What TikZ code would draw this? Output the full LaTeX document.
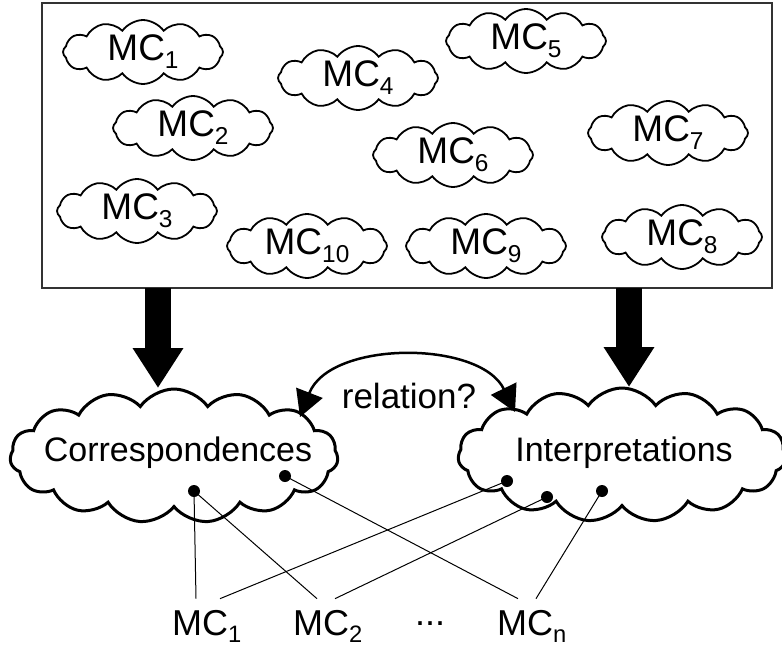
\documentclass[tikz,border=0pt]{standalone}
\usepackage{fontspec}
\setmainfont{Liberation Sans}
\usepackage{graphicx}
\usepackage{tikz}
\usetikzlibrary{positioning, arrows.meta, shapes.symbols, calc}
\newcommand{\mcsub}[1]{\raisebox{-0.22em}{\scalebox{0.66}{#1}}}
\tikzset{
    frame/.style={
        rectangle, draw=black!80, line width=1.5pt,
        minimum width=730pt, minimum height=285pt,
        inner sep=0pt, outer sep=0pt
    },
    mc/.style={
        cloud, cloud ignores aspect, draw=black, line width=1.8pt,
        cloud puffs=12, cloud puff arc=110,
        minimum width=160pt, minimum height=64pt,
        inner sep=0pt, font=\fontsize{37}{40}\selectfont
    },
    bigcloud/.style={
        cloud, cloud ignores aspect, draw=black, line width=3pt,
        cloud puffs=15, cloud puff arc=110,
        minimum width=328pt, minimum height=134pt,
        inner sep=0pt
    },
    bigtext/.style={
        font=\fontsize{34}{38}\selectfont, inner sep=0pt
    },
    dot/.style={
        circle, fill=black, inner sep=0pt, minimum size=12pt
    },
    mclabel/.style={
        anchor=base west, inner xsep=0pt, inner ysep=11pt,
        font=\fontsize{36}{40}\selectfont
    },
    bigarrow/.style={
        line width=26pt, -{Triangle[length=40pt, width=48pt]}
    },
    relarrow/.style={
        line width=2.5pt, {Triangle[length=26pt, width=28pt]}-{Triangle[length=26pt, width=28pt]}
    },
    link/.style={
        line width=1pt
    }
}

\begin{document}
\begin{tikzpicture}[x=1pt, y=-1pt]
\useasboundingbox (0,0) rectangle (782,648);

% pool of MCs
\node[frame, anchor=north west] (box) at (42,3) {};

\node[mc] (pool1) at (143,52) {MC\mcsub{1}};
\node[mc] (pool2) at (193,128) {MC\mcsub{2}};
\node[mc] (pool3) at (137,211) {MC\mcsub{3}};
\node[mc] (pool4) at (358,78) {MC\mcsub{4}};
\node[mc] (pool5) at (526,41) {MC\mcsub{5}};
\node[mc] (pool6) at (453,155) {MC\mcsub{6}};
\node[mc] (pool7) at (668,133) {MC\mcsub{7}};
\node[mc] (pool8) at (682,237) {MC\mcsub{8}};
\node[mc] (pool9) at (486,246) {MC\mcsub{9}};
\node[mc] (pool10) at (307,246) {MC\mcsub{10}};

% the two views
\node[bigcloud] (corr) at (174,456) {};
\node[bigtext] at (178,453) (corrtext) {Correspondences};
\node[bigcloud] (interp) at (622,455) {};
\node[bigtext] at (624,453) (interptext) {Interpretations};

\coordinate (corrtop) at (158,388);
\coordinate (interptop) at (629,387);
\draw[bigarrow] (box.south -| corrtop) -- (corrtop);
\draw[bigarrow] (box.south -| interptop) -- (interptop);

\coordinate (reltail) at (300,417);
\coordinate (relhead) at (515,412);
\draw[relarrow] (reltail) .. controls (330,340) and (480,340) .. (relhead);
\node[font=\fontsize{35}{38}\selectfont] (rel) at (409,396) {relation?};

% elements
\node[dot] (c1) at (194,491) {};
\node[dot] (c2) at (285,476) {};
\node[dot] (i1) at (507,481) {};
\node[dot] (i2) at (547,497) {};
\node[dot] (i3) at (602,491) {};

\node[mclabel] (m1) at (172,635) {MC\mcsub{1}};
\node[mclabel] (m2) at (293,635) {MC\mcsub{2}};
\node[mclabel] (mdots) at (415,625) {...};
\node[mclabel] (mn) at (497,635) {MC\mcsub{n}};

\draw[link] (c1.center) -- ([xshift=24pt]m1.north west);
\draw[link] (c1.center) -- ([xshift=24pt]m2.north west);
\draw[link] (c2.center) -- ([xshift=21pt]mn.north west);
\draw[link] (i1.center) -- ([xshift=48pt]m1.north west);
\draw[link] (i2.center) -- ([xshift=42pt]m2.north west);
\draw[link] (i3.center) -- ([xshift=39pt]mn.north west);

\end{tikzpicture}
\end{document}
